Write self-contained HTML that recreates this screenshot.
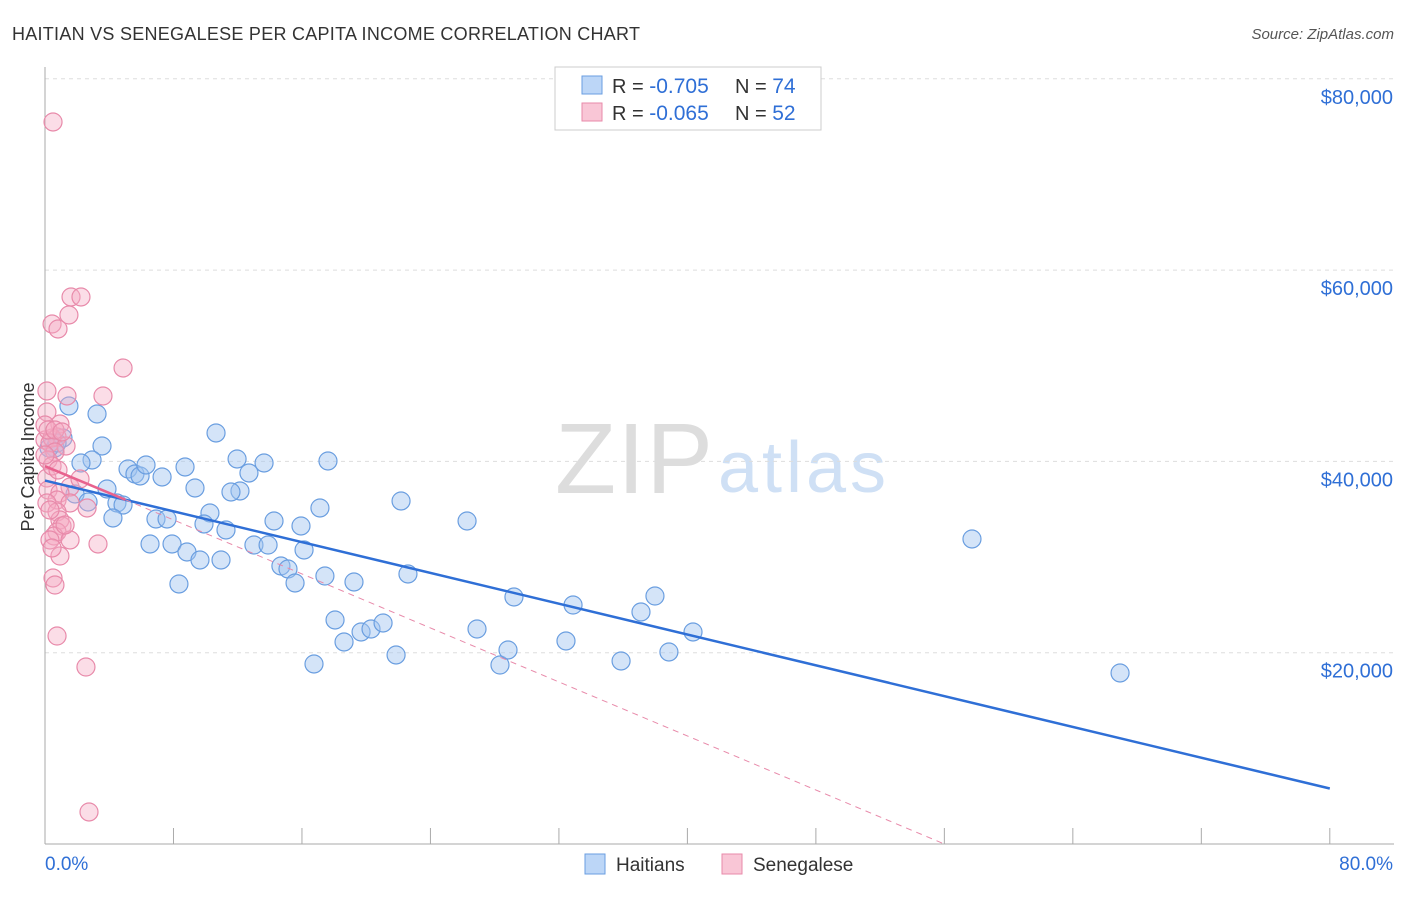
<!DOCTYPE html>
<html><head><meta charset="utf-8"><style>
body{margin:0;background:#fff;font-family:"Liberation Sans",sans-serif;}
svg text{font-family:"Liberation Sans",sans-serif;}
</style></head><body>
<svg id="chart" width="1406" height="892" xmlns="http://www.w3.org/2000/svg">
<text x="12" y="40" font-size="18" fill="#333" textLength="628">HAITIAN VS SENEGALESE PER CAPITA INCOME CORRELATION CHART</text>
<text x="1394" y="39" font-size="15" fill="#555" font-style="italic" text-anchor="end">Source: ZipAtlas.com</text>
<text x="34" y="457" font-size="18" fill="#333" transform="rotate(-90 34 457)" text-anchor="middle">Per Capita Income</text>
<text x="555" y="493" font-size="100" fill="#ddd" font-family="Liberation Serif" textLength="158">ZIP</text>
<text x="718" y="492" font-size="72" fill="#cfe0f5" textLength="168">atlas</text>
<g id="grid"></g><g id="pts"></g><g id="lines"></g>
<g>
<rect x="555" y="67" width="266" height="63" fill="#fff" stroke="#ccc"/>
<rect x="582" y="76" width="20" height="18" fill="#bcd6f7" stroke="#6a9ee0"/>
<rect x="582" y="103" width="20" height="18" fill="#f9c6d6" stroke="#e88aaa"/>
<text x="612" y="93" font-size="20" fill="#333">R = <tspan fill="#2f6fd6" font-size="21">-0.705</tspan></text>
<text x="735" y="93" font-size="20" fill="#333">N = <tspan fill="#2f6fd6" font-size="21">74</tspan></text>
<text x="612" y="120" font-size="20" fill="#333">R = <tspan fill="#2f6fd6" font-size="21">-0.065</tspan></text>
<text x="735" y="120" font-size="20" fill="#333">N = <tspan fill="#2f6fd6" font-size="21">52</tspan></text>
</g>
<g>
<rect x="585" y="854" width="20" height="20" fill="#bcd6f7" stroke="#6a9ee0"/>
<text x="616" y="871" font-size="19" fill="#333">Haitians</text>
<rect x="722" y="854" width="20" height="20" fill="#f9c6d6" stroke="#e88aaa"/>
<text x="753" y="871" font-size="19" fill="#333">Senegalese</text>
</g>
</svg>
<script>
const yTicks=[20000,40000,60000,80000];
const yTickLabels=["$20,000","$40,000","$60,000","$80,000"];
const blueX=[1.49,3.24,3.55,1.12,0.62,2.93,2.24,1.87,3.86,2.68,4.48,4.86,4.23,5.17,5.60,5.92,6.29,7.29,8.72,9.34,10.65,11.96,13.64,12.70,12.14,11.58,6.54,6.91,7.60,7.91,8.84,9.65,8.34,10.27,9.90,10.96,11.27,13.01,13.89,14.26,14.69,15.13,15.57,15.94,16.13,17.12,17.62,17.43,19.24,18.06,18.62,19.68,20.30,21.05,16.75,21.86,22.17,22.60,26.28,26.90,28.33,28.83,29.20,32.44,32.88,35.87,37.11,37.98,38.85,40.35,57.72,66.94,0.25,0.75];
const blueY=[45793,44957,41611,42447,41402,40147,39834,36593,37115,35756,35652,35442,34083,39206,38684,38474,39624,38370,39415,37220,42970,40252,39834,38788,36906,36802,31365,33979,33979,31365,30529,29692,27183,34606,33456,29692,32829,31260,31260,33770,29065,28751,27288,33247,30738,35129,40043,28019,27392,23419,21119,22165,22478,23106,18819,19760,35861,28229,33770,22478,18714,20283,25824,21224,24987,19133,24256,25928,20074,22165,31888,17878,41402,41925];
const pinkX=[0.50,1.62,2.24,1.49,0.44,0.81,4.86,0.12,1.37,3.61,0.12,0.93,0.75,0,0.44,0.31,1.31,0.62,0.12,1.56,2.18,0.19,0.93,0.75,0.12,1.56,2.62,0.75,0.93,1.06,0.75,0.56,0.31,1.56,3.30,0.93,0.50,0.62,0.75,2.55,2.74,0,0.19,0.44,0.81,0.19,0.62,1.06,0,0.31,1.25,0.44];
const pinkY=[75485,57189,57189,55307,54366,53843,49766,47361,46838,46838,45166,43911,42552,42238,42447,41925,41611,40984,38265,37324,38161,37011,36697,35965,35652,35652,35129,34711,33874,33247,32620,32201,31783,31783,31365,30110,27810,27078,21746,18505,3346,43806,40147,39520,39102,43284,43284,43075,40670,34920,33352,30947];
const blueTrend=[[0,38000],[80,5800]];
const pinkTrend=[[0,39500],[5,36000],[56,0]];
const NS="http://www.w3.org/2000/svg";
const xs=v=>45+v*16.06, ys=v=>844-v*0.009565;
function mk(t,a,p){const e=document.createElementNS(NS,t);for(const k in a)e.setAttribute(k,a[k]);p.appendChild(e);return e;}
const grid=document.getElementById('grid');
yTicks.forEach((t,i)=>{
  const l=mk('line',{x1:45,x2:1394,y1:ys(t),y2:ys(t),stroke:'#ddd','stroke-dasharray':'4,4'},grid);
  
  
  const tx=mk('text',{x:1393,y:ys(t)+25,'font-size':20,fill:'#2f6fd6','text-anchor':'end'},grid);
  tx.textContent=yTickLabels[i];
  
  
});
mk('line',{x1:45,x2:45,y1:67,y2:844,stroke:'#aaa'},grid);
mk('line',{x1:45,x2:1394,y1:844,y2:844,stroke:'#aaa'},grid);
for(let i=0;i<=10;i++){const t=mk('line',{x1:xs(i*8),x2:xs(i*8),y1:828,y2:844,stroke:'#aaa'},grid);
  
  }
const x0=mk('text',{x:45,y:870,'font-size':19,fill:'#2f6fd6'},grid);x0.textContent='0.0%';


const x1=mk('text',{x:1393,y:870,'font-size':19,fill:'#2f6fd6','text-anchor':'end'},grid);x1.textContent='80.0%';


const pts=document.getElementById('pts');
blueX.forEach((x,i)=>{const c=mk('circle',{cx:xs(x),cy:ys(blueY[i]),r:9,fill:'rgba(160,196,240,0.45)',stroke:'#6a9ee0','stroke-width':1.2},pts);
  
  });
pinkX.forEach((x,i)=>{const c=mk('circle',{cx:xs(x),cy:ys(pinkY[i]),r:9,fill:'rgba(245,170,195,0.4)',stroke:'#e88aaa','stroke-width':1.2},pts);
  
  });
const lines=document.getElementById('lines');
const bl=mk('line',{x1:xs(blueTrend[0][0]),y1:ys(blueTrend[0][1]),x2:xs(blueTrend[1][0]),y2:ys(blueTrend[1][1]),stroke:'#2f6fd6','stroke-width':2.5},lines);


const pd=mk('line',{x1:xs(pinkTrend[1][0]),y1:ys(pinkTrend[1][1]),x2:xs(pinkTrend[2][0]),y2:ys(pinkTrend[2][1]),stroke:'#e88aaa','stroke-width':1,'stroke-dasharray':'6,5'},lines);


const ps=mk('line',{x1:xs(pinkTrend[0][0]),y1:ys(pinkTrend[0][1]),x2:xs(pinkTrend[1][0]),y2:ys(pinkTrend[1][1]),stroke:'#e8628e','stroke-width':2.5},lines);


</script>
</body></html>
